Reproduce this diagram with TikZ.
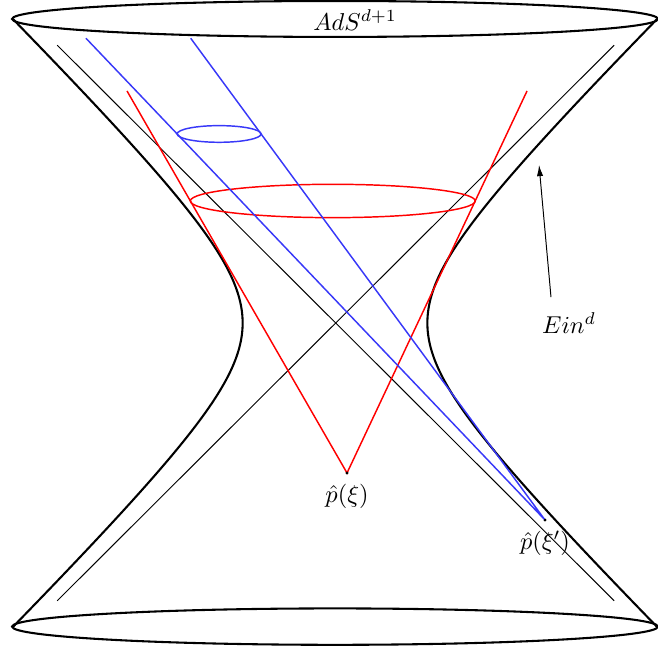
\documentclass[tikz,border=0pt]{standalone}
\usepackage{tikz}
\usepackage{xcolor}
\usetikzlibrary{positioning,arrows.meta,calc}
\definecolor{ink}{HTML}{000000}
\definecolor{conered}{HTML}{FF0000}
\definecolor{coneblue}{HTML}{3838F8}

\begin{document}
\begin{tikzpicture}[
  shell/.style={draw=ink, line width=0.85pt},
  cone/.style={line width=0.6pt},
  guide/.style={draw=ink, line width=0.4pt}
]
\useasboundingbox (-4.824,-4.723) rectangle (4.651,4.651);

% AdS boundary: the two rims
\draw[shell] (0,4.378) ellipse [x radius=4.65, y radius=0.259];
\draw[shell] (0,-4.372) ellipse [x radius=4.65, y radius=0.262];

% hyperboloid profile
\draw[shell] plot[domain=-4.375:4.375, samples=120, smooth] ({-1.33*sqrt(1+(\x/1.31)^2)}, \x);
\draw[shell] plot[domain=-4.375:4.375, samples=120, smooth] ({1.33*sqrt(1+(\x/1.31)^2)}, \x);

% light cone of the centre
\draw[guide] (-4.0,4.0) -- (4.02,-4.0);
\draw[guide] (4.02,4.0) -- (-4.0,-4.0);

% Red cone
\coordinate (pxi) at (0.173,-2.16);
\coordinate (redL) at (-2.995,3.341);
\coordinate (redR) at (2.765,3.341);
\draw[cone, draw=conered] (redL) -- (pxi) -- (redR);
\draw[cone, draw=conered] (-0.032,1.757) ellipse [x radius=2.051, y radius=0.24];
\fill[ink] (pxi) circle (0.022);
\node[below=0.04cm of pxi] (pxilab) {$\hat{p}(\xi)$};

% Blue cone
\coordinate (pxip) at (3.024,-2.837);
\coordinate (blueL) at (-3.586,4.100);
\coordinate (blueR) at (-2.078,4.100);
\draw[cone, draw=coneblue] (blueL) -- (pxip) -- (blueR);
\draw[cone, draw=coneblue] (-1.669,2.722) ellipse [x radius=0.604, y radius=0.12];
\fill[ink] (pxip) circle (0.022);
\node[below=0.04cm of pxip] (pxiplab) {$\hat{p}(\xi')$};

% Labels
\node (ads) at (0.29,4.36) {$AdS^{d+1}$};
\node (ein) at (3.37,0.0) {$Ein^d$};
\coordinate (einpt) at (2.938,2.275);
\draw[guide, -{Latex[length=1.6mm, width=0.9mm]}] ([xshift=-0.26cm, yshift=0.1cm]ein.north) -- (einpt);

\end{tikzpicture}
\end{document}
